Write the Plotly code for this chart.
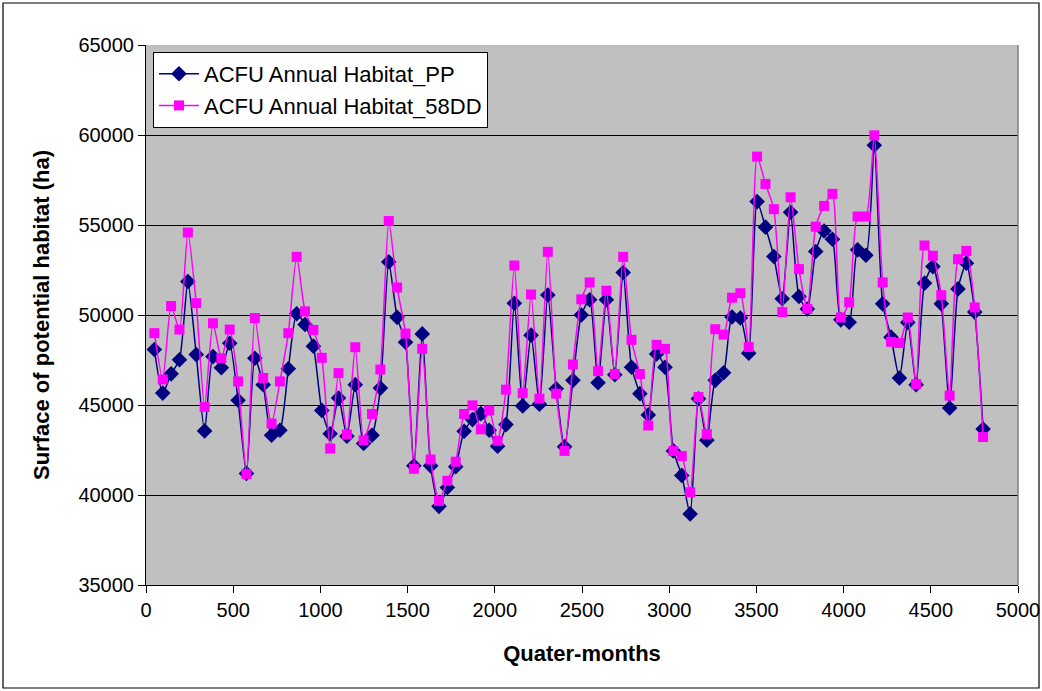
import plotly.graph_objects as go

quarter_months = list(range(48, 4801, 48))

habitat_pp = [
    48080, 45660, 46730, 47510, 51860, 47800, 43560, 47690, 47070, 48430,
    45260, 41200, 47600, 46130, 43320, 43600, 47010, 50070, 49470, 48270,
    44700, 43400, 45390, 43270, 46130, 42860, 43320, 45940, 52950, 49870,
    48490, 41620, 48950, 41620, 39370, 40420, 41570, 43540, 44190, 44520,
    43600, 42710, 43910, 50650, 44950, 48880, 45040, 51110, 45900, 42680,
    46370, 50000, 50850, 46240, 50850, 46680, 52360, 47100, 45630, 44450,
    47840, 47100, 42450, 41090, 38950, 45350, 43040, 46370, 46790, 49890,
    49830, 47880, 56300, 54880, 53250, 50900, 55710, 51030, 50330, 53530,
    54670, 54210, 49730, 49600, 53620, 53320, 59430, 50620, 48770, 46500,
    49590, 46130, 51770, 52690, 50620, 44830, 51450, 52880, 50160, 43670,
]

habitat_58dd = [
    48990, 46420, 50500, 49190, 54580, 50660, 44890, 49540, 47600, 49190,
    46310, 41160, 49830, 46500, 43970, 46310, 48990, 53230, 50200, 49170,
    47620, 42580, 46770, 43360, 48210, 43040, 44500, 46970, 55220, 51530,
    48970, 41460, 48120, 41970, 39670, 40790, 41850, 44500, 44980, 43650,
    44700, 43010, 45850, 52750, 45660, 51140, 45350, 53510, 45630, 42450,
    47250, 50870, 51810, 46880, 51350, 46720, 53230, 48620, 46720, 43860,
    48340, 48120, 42440, 42160, 40150, 45440, 43380, 49210, 48910, 50960,
    51210, 48220, 58800, 57280, 55880, 50160, 56540, 52550, 50340, 54910,
    56060, 56730, 49860, 50710, 55470, 55470, 59980, 51810, 48510, 48440,
    49860, 46160, 53860, 53290, 51100, 45520, 53100, 53560, 50420, 43220,
]

y_ticks = [35000, 40000, 45000, 50000, 55000, 60000, 65000]
x_ticks = [0, 500, 1000, 1500, 2000, 2500, 3000, 3500, 4000, 4500, 5000]

FONT = "Liberation Sans, Arial, sans-serif"

fig = go.Figure()
fig.add_trace(go.Scatter(
    x=quarter_months, y=habitat_pp, name="ACFU Annual Habitat_PP",
    mode="lines+markers", line=dict(color="#000080", width=1.5, shape="spline", smoothing=0.6),
    marker=dict(symbol="diamond", size=12, color="#000080"),
))
fig.add_trace(go.Scatter(
    x=quarter_months, y=habitat_58dd, name="ACFU Annual Habitat_58DD",
    mode="lines+markers", line=dict(color="#FF00FF", width=1.5, shape="spline", smoothing=0.6),
    marker=dict(symbol="square", size=10, color="#FF00FF"),
))

L, R, T, B = 146, 24, 45, 106
W, H = 1042, 691
pw, ph = W - L - R, H - T - B

fig.update_layout(
    width=W, height=H,
    margin=dict(l=L, r=R, t=T, b=B, autoexpand=False),
    paper_bgcolor="white", plot_bgcolor="#C0C0C0",
    font=dict(family=FONT, size=20, color="black"),
    showlegend=True,
    legend=dict(
        x=0.008, y=0.987, xanchor="left", yanchor="top",
        bgcolor="white", bordercolor="black", borderwidth=1,
        font=dict(family=FONT, size=22, color="black"),
        itemwidth=40, tracegroupgap=0,
    ),
    xaxis=dict(
        range=[0, 5000], tickvals=x_ticks, ticktext=[str(v) for v in x_ticks],
        showgrid=False, zeroline=False, automargin=False,
        showline=True, linecolor="black", linewidth=1,
        ticks="outside", ticklen=7, tickcolor="black",
        title=dict(text="<b>Quater-months</b>", font=dict(family=FONT, size=22), standoff=25),
    ),
    yaxis=dict(
        range=[35000, 65000], tickvals=y_ticks, ticktext=[str(v) for v in y_ticks],
        showgrid=True, gridcolor="black", gridwidth=1, zeroline=False, automargin=False,
        showline=True, linecolor="black", linewidth=1,
        ticks="outside", ticklen=7, tickcolor="black",
        title=dict(text="<b>Surface of potential habitat (ha)</b>", font=dict(family=FONT, size=22), standoff=22),
    ),
    shapes=[
        dict(type="line", xref="paper", yref="paper", x0=1, x1=1, y0=0, y1=1,
             line=dict(color="#808080", width=1.5)),
        dict(type="rect", xref="paper", yref="paper",
             x0=(3 - L) / pw, x1=(1039 - L) / pw,
             y0=(H - B - 688) / ph, y1=(H - B - 3) / ph,
             line=dict(color="black", width=1.2), fillcolor="rgba(0,0,0,0)"),
    ],
)

fig.write_html(
    "out.html",
    config={"displayModeBar": False},
    post_script="document.body.style.margin='0px';document.body.style.overflow='hidden';",
)
